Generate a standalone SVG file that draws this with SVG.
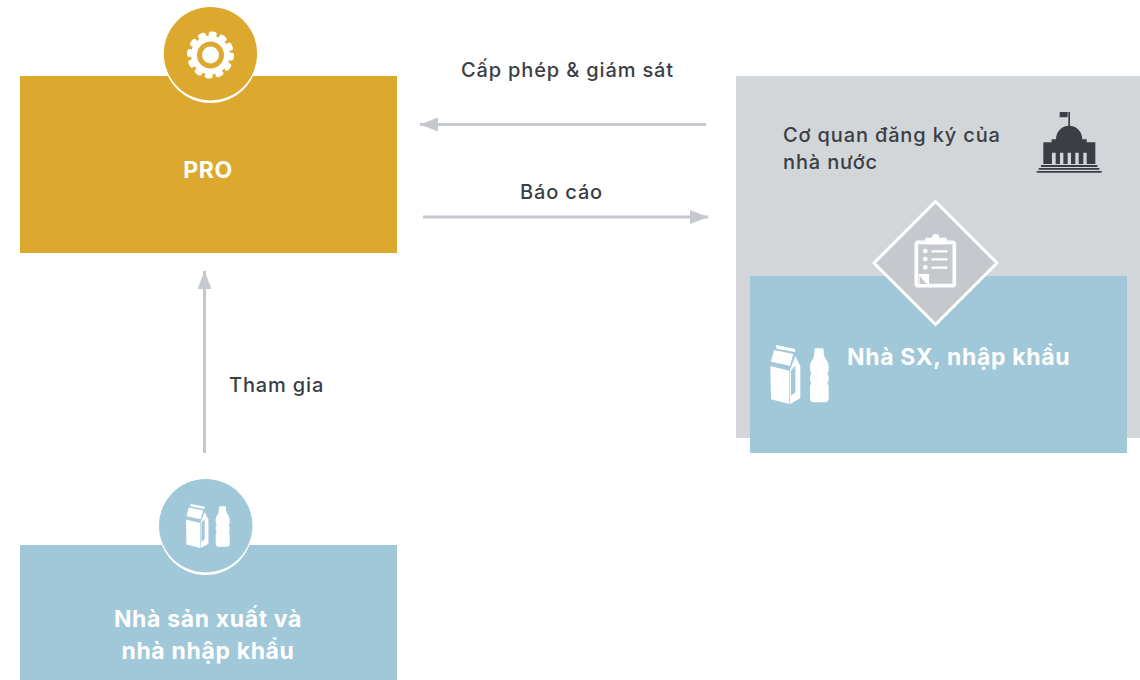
<svg xmlns="http://www.w3.org/2000/svg" width="1140" height="680" viewBox="0 0 1140 680">
<style>
.t{font-family:Inter,"Noto Sans","Liberation Sans",sans-serif;font-size:20px;font-weight:500;letter-spacing:.85px;fill:#3b3e45}
.b{font-family:Inter,"Noto Sans","Liberation Sans",sans-serif;font-size:23px;font-weight:700;letter-spacing:.65px;fill:#fff;text-anchor:middle}
.c{fill:none;stroke:#c5c8cd;stroke-width:3;marker-end:url(#h)}
.w{fill:#fff}
.k{fill:#3b3e45}
</style>
<defs>
<marker id="h" markerUnits="userSpaceOnUse" markerWidth="20" markerHeight="16" refX="18" refY="7" orient="auto"><path d="M0 0L18 7L0 14Z" fill="#c5c8cd"/></marker>
<g id="pack">
<g transform="translate(750 330) scale(.33333)">
<path class="w" d="M78 45L135 57L135 66L80 56Z"/>
<path class="w" d="M72 60L130 72L120 107L63 95Z"/>
<path class="w" d="M61 108L118 122V222L63 208Z"/>
<path class="w" d="M136 78L151 108V205L120 222V120Z"/>
<path fill="#a0c8d8" d="M136 106V187L123 197V122Z"/>
<path class="w" d="M198 55H216Q221 55 221 60V70Q221 78 228 88Q236 98 236 108V122L232 130L236 138V152L232 160L236 168V205Q236 217 224 217H192Q180 217 180 205V168L184 160L180 152V138L184 130L180 122V108Q180 98 188 88Q193 78 193 70V60Q193 55 198 55Z"/>
</g>
</g>
</defs>
<g id="connectors">
<path class="c" d="M706 124.500H420"/>
<path class="c" d="M423 217H708"/>
<path class="c" d="M204.500 453V271"/>
</g>
<g id="pro">
<rect x="20" y="76" width="377" height="177" fill="#dca92e"/>
<circle cx="210.500" cy="56" r="47" fill="#fff"/>
<circle cx="210.500" cy="53.700" r="46.700" fill="#dca92e"/>
<circle cx="210.500" cy="55" r="16.500" fill="none" stroke="#fff" stroke-width="6"/>
<circle cx="210.500" cy="55" r="21" fill="none" stroke="#fff" stroke-width="5" stroke-linecap="round" stroke-dasharray="3.200 7.796"/>
<circle cx="210.500" cy="55" r="8.500" fill="#fff"/>
<text class="b" x="208" y="178">PRO</text>
</g>
<g id="producers">
<rect x="20" y="545" width="377" height="135" fill="#a0c8d8"/>
<circle cx="205.700" cy="528" r="47" fill="#fff"/>
<circle cx="205.700" cy="525.700" r="46.700" fill="#a0c8d8"/>
<use href="#pack" transform="translate(-391.800 245) scale(.75)"/>
<text class="b" x="208" y="627">Nhà sản xuất và</text>
<text class="b" x="208" y="659">nhà nhập khẩu</text>
</g>
<g id="registry">
<rect x="736" y="76" width="404" height="362" fill="#d2d6d9"/>
<text class="t" x="783" y="142">Cơ quan đăng ký của</text>
<text class="t" x="783" y="169">nhà nước</text>
<g transform="translate(1020 100) scale(.33333)">
<path class="k" d="M119 36h24v16h-24zM145 36h5v44h-5z"/>
<path class="k" d="M70 127H95V118H108C108 95 125 77 147 77C170 77 187 95 187 118H200V127H226V192H200V158H190V192H176V158H166V192H153V158H143V192H130V158H120V192H107V158H96V192H70Z"/>
<path class="k" d="M63 195H232V201H63zM56 204H238V209H56zM50 213H245V218H50z"/>
</g>
</g>
<g id="manufacturers">
<rect x="750" y="276" width="377" height="177" fill="#a0c8d8"/>
<use href="#pack"/>
<text class="b" x="847" y="365" style="text-anchor:start">Nhà SX, nhập khẩu</text>
</g>
<g id="license">
<path d="M935.500 201.500L997 263L935.500 324.500L874 263Z" fill="#c5c8cd" stroke="#fff" stroke-width="3"/>
<g transform="translate(860 190) scale(.33333)" fill="none" stroke="#fff">
<path d="M174 157H278Q283 157 283 162V282Q283 287 278 287H174Q169 287 169 282V162Q169 157 174 157Z" stroke-width="11"/>
<path class="w" stroke="none" d="M196 143H216A11 11 0 0 1 238 143H260V163H196Z"/>
<path class="w" stroke="none" d="M176 252H207V288H176Z"/>
<path fill="#c5c8cd" stroke="none" d="M179 257L200 282H179Z"/>
<path d="M214 184H262M214 208H262M214 233H262" stroke-width="7"/>
<g class="w" stroke="none"><circle cx="196" cy="183" r="7"/><circle cx="196" cy="207" r="7"/><circle cx="196" cy="232" r="7"/></g>
</g>
</g>
<g id="labels">
<text class="t" x="461" y="77">Cấp phép &amp; giám sát</text>
<text class="t" x="520" y="199">Báo cáo</text>
<text class="t" x="229" y="392">Tham gia</text>
</g>
</svg>
